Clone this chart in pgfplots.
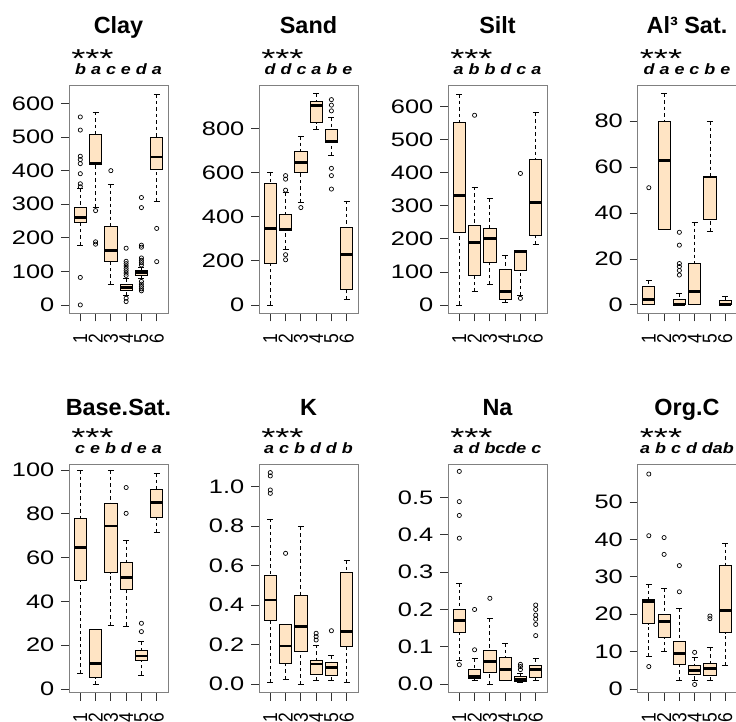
\documentclass[border=0pt]{standalone}
\usepackage{fontspec}
\setmainfont{Liberation Sans}
\usepackage{pgfplots}
\pgfplotsset{compat=1.18}
\usepgfplotslibrary{statistics}
\definecolor{bisque}{HTML}{FFE4C4}

\pgfplotsset{
  soil/.style={
    scale only axis, width=99bp, height=228.4bp,
    xmin=0.26, xmax=6.74,
    xtick={1,2,3,4,5,6}, xticklabels={1,2,3,4,5,6},
    tick pos=left, tick align=outside, major tick length=8bp,
    every tick/.style={black!80, line width=0.8bp},
    axis line style={black!50, line width=0.9bp},
    /pgf/number format/assume math mode=true,
    yticklabel style={font=\fontsize{19.6}{20}\selectfont, anchor=east, inner sep=0pt, xshift=-6.5bp, xscale=1.3},
    xticklabel style={font=\fontsize{17.5}{17.5}\selectfont, yshift=-12bp, xscale=1.15, rotate=90, anchor=east, inner sep=0pt},
    clip=false,
    boxplot/draw direction=y,
    boxplot/box extend=0.8,
    boxplot/whisker extend=0.4,
    boxplot/draw/box/.code={\draw[fill=bisque, draw=black, line width=0.9bp]
      (boxplot box cs:\pgfplotsboxplotvalue{lower quartile},0) rectangle
      (boxplot box cs:\pgfplotsboxplotvalue{upper quartile},1);},
    boxplot/draw/median/.code={\draw[line width=2.8bp, black]
      (boxplot box cs:\pgfplotsboxplotvalue{median},0) --
      (boxplot box cs:\pgfplotsboxplotvalue{median},1);},
    boxplot/draw/lower whisker/.code={%
      \draw[black, line width=0.8bp, dash pattern=on 3.5bp off 3bp]
        (boxplot cs:\pgfplotsboxplotvalue{lower whisker}) --
        (boxplot cs:\pgfplotsboxplotvalue{lower quartile});
      \draw[black, line width=0.8bp]
        (boxplot whisker cs:\pgfplotsboxplotvalue{lower whisker},0) --
        (boxplot whisker cs:\pgfplotsboxplotvalue{lower whisker},1);},
    boxplot/draw/upper whisker/.code={%
      \draw[black, line width=0.8bp, dash pattern=on 3.5bp off 3bp]
        (boxplot cs:\pgfplotsboxplotvalue{upper whisker}) --
        (boxplot cs:\pgfplotsboxplotvalue{upper quartile});
      \draw[black, line width=0.8bp]
        (boxplot whisker cs:\pgfplotsboxplotvalue{upper whisker},0) --
        (boxplot whisker cs:\pgfplotsboxplotvalue{upper whisker},1);},
  },
  onedec/.style={/pgf/number format/fixed, /pgf/number format/fixed zerofill, /pgf/number format/precision=1},
}

% position, lower whisker, lower quartile, median, upper quartile, upper whisker, outliers
\newcommand\bx[7]{\addplot[black, mark=o, mark size=2.1bp, mark options={solid, line width=0.7bp},
  boxplot prepared={draw position=#1, lower whisker=#2, lower quartile=#3, median=#4, upper quartile=#5, upper whisker=#6}]
  table[row sep=\\, y index=0] {y\\ #7};}
\newcommand\bxn[6]{\addplot[black, mark=o, mark size=2.1bp, mark options={solid, line width=0.7bp},
  boxplot prepared={draw position=#1, lower whisker=#2, lower quartile=#3, median=#4, upper quartile=#5, upper whisker=#6}]
  coordinates {};}
\newcommand\decor[3]{%
  \node[anchor=base, yshift=#3, font=\fontsize{23.5}{24}\selectfont\bfseries, inner sep=0pt] at (rel axis cs:0.5,1) {#1};
  \node[anchor=base west, xshift=2bp, yshift=18bp, font=\fontsize{26}{26}\selectfont, xscale=1.4, inner sep=0pt] at (rel axis cs:0,1) {***};
  \node[anchor=base, yshift=11bp, font=\fontsize{15}{15}\selectfont\bfseries\itshape, xscale=1.2, inner sep=0pt] at (rel axis cs:0.5,1) {#2};
}

\begin{document}
\begin{tikzpicture}
% ---------------- Clay
\begin{axis}[soil, at={(69bp,-85bp)}, anchor=north west, ymin=-25.2, ymax=655.2, ytick={0,100,...,600}]
\bx{1}{178}{245}{261}{290}{347}{560\\ 521\\ 443\\ 433\\ 421\\ 391\\ 361\\ 352\\ 82\\ 0\\}
\bx{2}{290}{418}{423}{509}{575}{281\\ 188\\ 181\\}
\bx{3}{61}{129}{162}{235}{360}{400\\}
\bx{4}{28}{43}{53}{62}{80}{169\\ 130\\ 123\\ 116\\ 109\\ 102\\ 95\\ 88\\ 20\\ 10\\}
\bx{5}{78}{88}{96}{102}{112}{320\\ 290\\ 178\\ 172\\ 140\\ 133\\ 126\\ 119\\ 70\\ 62\\ 55\\ 48\\ 42\\}
\bx{6}{309}{405}{441}{499}{627}{228\\ 129\\}
\decor{Clay}{b a c e d a}{52bp}
\end{axis}
% ---------------- Sand
\begin{axis}[soil, at={(259bp,-85bp)}, anchor=north west, ymin=-38.4, ymax=998.4, ytick={0,200,...,800}]
\bxn{1}{0}{190}{346}{553}{602}
\bx{2}{251}{337}{343}{411}{510}{587\\ 571\\ 521\\ 228\\ 205\\}
\bx{3}{465}{602}{648}{699}{766}{442\\}
\bxn{4}{795}{827}{907}{925}{960}
\bx{5}{678}{736}{742}{795}{853}{932\\ 907\\ 881\\ 620\\ 587\\ 526\\}
\bxn{6}{23}{69}{229}{350}{472}
\decor{Sand}{d d c a b e}{52bp}
\end{axis}
% ---------------- Silt
\begin{axis}[soil, at={(448bp,-85bp)}, anchor=north west, ymin=-25.6, ymax=665.6, ytick={0,100,...,600}]
\bxn{1}{0}{220}{331}{551}{637}
\bx{2}{40}{90}{190}{241}{357}{574\\}
\bxn{3}{61}{130}{202}{230}{321}
\bxn{4}{9}{18}{40}{108}{149}
\bx{5}{28}{104}{160}{165}{165}{398\\ 20\\}
\bxn{6}{182}{209}{311}{440}{582}
\decor{Silt}{a b b d c a}{52bp}
\end{axis}
% ---------------- Al3 Sat.
\begin{axis}[soil, at={(637.5bp,-85bp)}, anchor=north west, ymin=-3.7, ymax=95.7, ytick={0,20,...,80}]
\bx{1}{0}{0}{2.2}{8}{10.6}{51\\}
\bxn{2}{33}{33}{63}{80}{92}
\bx{3}{0}{0}{0}{2.5}{4.8}{31.6\\ 26\\ 18\\ 16.7\\ 15\\ 13\\}
\bxn{4}{0}{0}{5.8}{18}{36}
\bxn{5}{32}{37}{55.7}{56}{80}
\bxn{6}{0}{0}{0}{1.9}{3.6}
\decor{Al³ Sat.}{d a e c b e}{52bp}
\end{axis}
% ---------------- Base.Sat.
\begin{axis}[soil, at={(69bp,-464.3bp)}, anchor=north west, ymin=-1.7, ymax=102.6, ytick={0,20,...,100}]
\bxn{1}{7.2}{49.5}{64.5}{78}{100}
\bxn{2}{2.1}{5.2}{11.7}{27.2}{27.2}
\bxn{3}{29.2}{53}{74.4}{84.5}{100}
\bx{4}{28.8}{45.5}{50.8}{57.7}{68}{92\\ 80.2\\}
\bx{5}{6.4}{13.2}{15.1}{17.5}{21.6}{30\\ 26.2\\}
\bxn{6}{71.4}{78.2}{85.1}{91.2}{98.5}
\decor{Base.Sat.}{c e b d e a}{49bp}
\end{axis}
% ---------------- K
\begin{axis}[soil, onedec, at={(259bp,-464.3bp)}, anchor=north west, ymin=-0.044, ymax=1.113, ytick={0,0.2,...,1.0}]
\bx{1}{0.008}{0.321}{0.426}{0.55}{0.836}{1.071\\ 1.054\\ 0.983\\ 0.966\\}
\bx{2}{0.024}{0.105}{0.193}{0.30}{0.30}{0.662\\}
\bxn{3}{0}{0.167}{0.29}{0.448}{0.797}
\bx{4}{0.02}{0.051}{0.101}{0.118}{0.198}{0.257\\ 0.24\\ 0.223\\}
\bx{5}{0.02}{0.042}{0.083}{0.11}{0.147}{0.27\\}
\bxn{6}{0.008}{0.189}{0.265}{0.564}{0.628}
\decor{K}{a c b d d b}{49bp}
\end{axis}
% ---------------- Na
\begin{axis}[soil, onedec, at={(448bp,-464.3bp)}, anchor=north west, ymin=-0.023, ymax=0.589, ytick={0,0.1,...,0.5}]
\bx{1}{0.063}{0.139}{0.17}{0.199}{0.27}{0.57\\ 0.489\\ 0.452\\ 0.391\\ 0.052\\}
\bx{2}{0.011}{0.015}{0.021}{0.039}{0.069}{0.2\\ 0.092\\}
\bx{3}{0}{0.03}{0.06}{0.089}{0.176}{0.23\\}
\bxn{4}{0.011}{0.011}{0.04}{0.072}{0.109}
\bx{5}{0.004}{0.006}{0.013}{0.02}{0.029}{0.053\\ 0.047\\ 0.039\\}
\bx{6}{0.011}{0.018}{0.039}{0.051}{0.069}{0.212\\ 0.2\\ 0.185\\ 0.174\\ 0.16\\ 0.13\\}
\decor{Na}{a d bcde c}{49bp}
\end{axis}
% ---------------- Org.C
\begin{axis}[soil, at={(637.5bp,-464.3bp)}, anchor=north west, ymin=-1.0, ymax=60.1, ytick={0,10,...,50}]
\bx{1}{8.8}{17.5}{23.5}{24}{28}{57.5\\ 41\\ 6\\}
\bx{2}{10}{13.8}{18}{20}{27}{40.5\\ 36\\}
\bx{3}{2.3}{6.5}{9.5}{12.6}{21.5}{33\\ 26\\}
\bx{4}{2.4}{3.9}{4.9}{6.3}{8.5}{9.8\\ 1.2\\}
\bx{5}{2.2}{3.6}{5.5}{6.9}{11}{19.5\\ 18.8\\}
\bxn{6}{6.3}{15}{21}{33}{39}
\decor{Org.C}{a b c d dab}{49bp}
\end{axis}
\pgfresetboundingbox
\path (0,0) rectangle (736bp,-722bp);
\end{tikzpicture}
\end{document}
